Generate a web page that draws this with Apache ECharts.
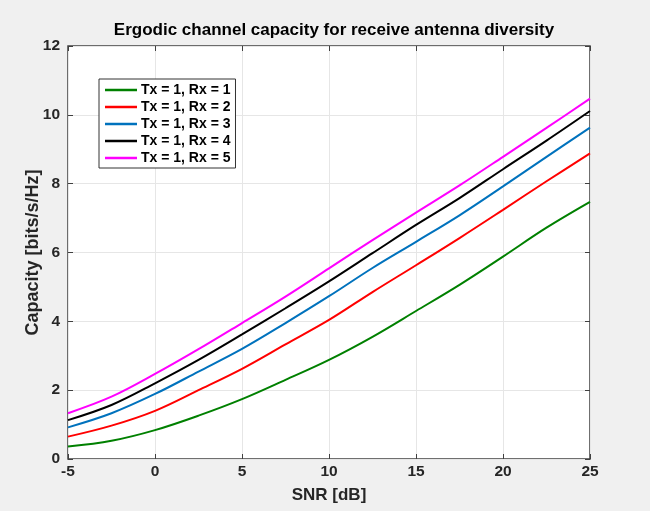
<!DOCTYPE html>
<html>
<head>
<meta charset="utf-8">
<script src="https://cdn.jsdelivr.net/npm/echarts@6/dist/echarts.min.js"></script>
<style>
  html, body { margin: 0; padding: 0; background: #f0f0f0; }
  #chart { width: 650px; height: 511px; }
</style>
</head>
<body>
<div id="chart"></div>
<script>
// SNR in dB
const snr = [-5, -2.5, 0, 2.5, 5, 7.5, 10, 12.5, 15, 17.5, 20, 22.5, 25];

// capacity in bits/s/Hz, one array per receive antenna count
const rx1 = [0.36, 0.53, 0.84, 1.26, 1.74, 2.30, 2.88, 3.55, 4.30, 5.06, 5.88, 6.72, 7.47];
const rx2 = [0.65, 0.97, 1.40, 2.00, 2.62, 3.33, 4.04, 4.85, 5.63, 6.42, 7.24, 8.07, 8.88];
const rx3 = [0.92, 1.33, 1.89, 2.54, 3.20, 3.95, 4.73, 5.55, 6.31, 7.08, 7.92, 8.78, 9.63];
const rx4 = [1.13, 1.57, 2.20, 2.88, 3.62, 4.38, 5.16, 5.98, 6.80, 7.58, 8.42, 9.25, 10.11];
const rx5 = [1.33, 1.81, 2.47, 3.19, 3.95, 4.72, 5.54, 6.36, 7.16, 7.95, 8.78, 9.62, 10.47];

const names = ['Tx = 1, Rx = 1', 'Tx = 1, Rx = 2', 'Tx = 1, Rx = 3', 'Tx = 1, Rx = 4', 'Tx = 1, Rx = 5'];
const colors = ['#008000', '#ff0000', '#0072bd', '#000000', '#ff00ff'];
const curves = [rx1, rx2, rx3, rx4, rx5];

const font = 'Liberation Sans, Arial, sans-serif';
const textColor = '#262626';

const pairs = (ys) => snr.map((x, i) => [x, ys[i]]);

const tick = { show: true, inside: true, length: 5, lineStyle: { color: '#404040' } };

// the box axes on top / right only carry inward ticks
const boxAxis = (extra) => Object.assign({
  type: 'value',
  axisLine: { show: false, onZero: false },
  axisTick: tick,
  axisLabel: { show: false },
  splitLine: { show: false }
}, extra);

const chart = echarts.init(document.getElementById('chart'));
chart.setOption({
  backgroundColor: '#f0f0f0',
  animation: false,
  color: colors,
  title: {
    text: 'Ergodic channel capacity for receive antenna diversity',
    left: 329,
    top: 17,
    textAlign: 'center',
    textStyle: { fontFamily: font, fontSize: 17, fontWeight: 'bold', color: '#000' }
  },
  legend: {
    data: names,
    orient: 'vertical',
    left: 99,
    top: 79,
    padding: [4, 5, 3, 6],
    itemGap: 3,
    itemWidth: 32,
    itemHeight: 2.5,
    icon: 'rect',
    backgroundColor: '#fff',
    borderColor: '#333',
    borderWidth: 1,
    textStyle: { fontFamily: font, fontSize: 14, fontWeight: 'bold', color: '#000', lineHeight: 14, padding: [0, 0, 0, -1] }
  },
  grid: {
    left: 68, top: 46, width: 522, height: 413,
    show: true,
    backgroundColor: '#fff',
    borderColor: '#404040',
    borderWidth: 1.5
  },
  xAxis: [
    {
      type: 'value',
      min: -5, max: 25, interval: 5,
      name: 'SNR [dB]',
      nameLocation: 'middle',
      nameGap: 28,
      nameMoveOverlap: false,
      nameTextStyle: { fontFamily: font, fontSize: 17, fontWeight: 'bold', color: textColor },
      axisLine: { show: false, onZero: false },
      axisTick: tick,
      axisLabel: { fontFamily: font, fontSize: 15.5, fontWeight: 'bold', color: textColor, margin: 5 },
      splitLine: { show: true, lineStyle: { color: '#e6e6e6', width: 1 } }
    },
    boxAxis({ position: 'top', min: -5, max: 25, interval: 5 })
  ],
  yAxis: [
    {
      type: 'value',
      min: 0, max: 12, interval: 2,
      name: 'Capacity [bits/s/Hz]',
      nameLocation: 'middle',
      nameGap: 26,
      nameMoveOverlap: false,
      nameTextStyle: { fontFamily: font, fontSize: 18, fontWeight: 'bold', color: textColor },
      axisLine: { show: false, onZero: false },
      axisTick: tick,
      axisLabel: { fontFamily: font, fontSize: 15.5, fontWeight: 'bold', color: textColor, margin: 8 },
      splitLine: { show: true, lineStyle: { color: '#e6e6e6', width: 1 } }
    },
    boxAxis({ position: 'right', min: 0, max: 12, interval: 2 })
  ],
  series: curves.map((ys, i) => ({
    name: names[i],
    type: 'line',
    data: pairs(ys),
    showSymbol: false,
    symbol: 'none',
    smooth: 0.35,
    lineStyle: { width: 2, color: colors[i] },
    itemStyle: { color: colors[i] }
  }))
});
</script>
</body>
</html>
